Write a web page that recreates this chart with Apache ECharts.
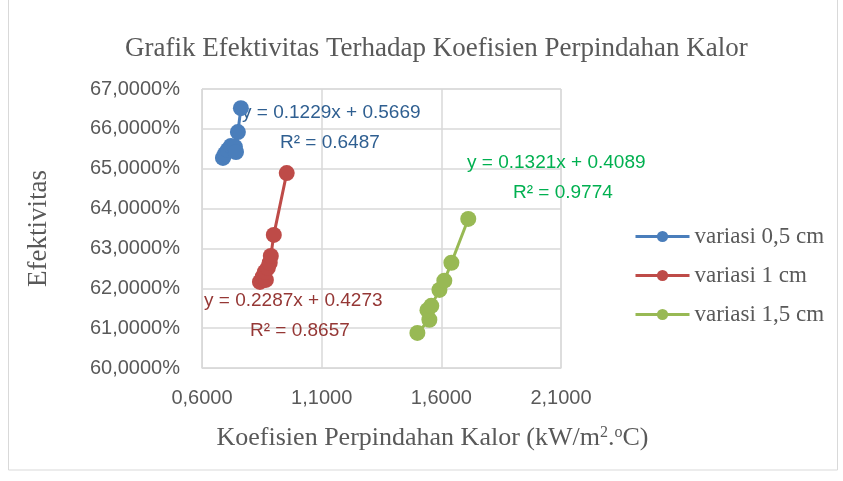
<!DOCTYPE html>
<html>
<head>
<meta charset="utf-8">
<script src="https://cdn.jsdelivr.net/npm/echarts@6/dist/echarts.min.js"></script>
<style>
  html, body { margin: 0; padding: 0; background: #fff; }
  #chart { width: 843px; height: 481px; }
</style>
</head>
<body>
<div id="chart"></div>
<script>
// data (x = kW/m2.C, y = fraction)
const seriesNames = ['variasi 0,5 cm', 'variasi 1 cm', 'variasi 1,5 cm'];
const blueX = [0.6875, 0.696, 0.708, 0.721, 0.7375, 0.742, 0.750, 0.7625];
const blueY = [0.6527, 0.6537, 0.6547, 0.6557, 0.6555, 0.6542, 0.6592, 0.6652];
const redX = [0.842, 0.854, 0.867, 0.8625, 0.875, 0.883, 0.8875, 0.900, 0.954];
const redY = [0.6216, 0.6229, 0.6221, 0.6241, 0.6251, 0.6264, 0.6281, 0.6334, 0.6489];
const greenX = [1.500, 1.550, 1.542, 1.558, 1.592, 1.6125, 1.642, 1.7125];
const greenY = [0.6088, 0.6121, 0.6145, 0.6156, 0.6196, 0.6219, 0.6264, 0.6374];
const trendLabels = [
  ['y = 0.1229x + 0.5669', 'R² = 0.6487'],
  ['y = 0.2287x + 0.4273', 'R² = 0.8657'],
  ['y = 0.1321x + 0.4089', 'R² = 0.9774']
];

const colors = ['#4a7ebb', '#be4b48', '#98b954'];
const labelColors = ['#2f5f91', '#953735', '#00b050'];

function pairs(xs, ys) {
  return xs.map((x, i) => [x, ys[i]]);
}

const myChart = echarts.init(document.getElementById('chart'));
const sans = 'Liberation Sans';
const serif = 'Liberation Serif';

function makeSeries(name, data, color) {
  return {
    name: name,
    type: 'line',
    data: data,
    symbol: 'circle',
    symbolSize: 16,
    color: color,
    lineStyle: { width: 3, color: color },
    itemStyle: { color: color },
    z: 3
  };
}

function eqText(txt, x, y, color) {
  return {
    type: 'text',
    x: x,
    y: y,
    z: 1,
    style: {
      text: txt,
      fill: color,
      font: '19px ' + sans,
      textVerticalAlign: 'middle'
    }
  };
}

myChart.setOption({
  animation: false,
  title: {
    text: 'Grafik Efektivitas Terhadap Koefisien Perpindahan Kalor',
    left: 120,
    top: 30,
    textStyle: { fontFamily: serif, fontSize: 27, fontWeight: 'normal', color: '#595959' }
  },
  grid: {
    left: 202,
    right: 282,
    top: 89,
    bottom: 113,
    show: true,
    borderColor: '#d9d9d9',
    borderWidth: 1
  },
  legend: {
    orient: 'vertical',
    left: 629,
    top: 220,
    itemWidth: 54,
    itemHeight: 14,
    itemGap: 16,
    data: seriesNames,
    lineStyle: { width: 3 },
    textStyle: { fontFamily: serif, fontSize: 23, color: '#595959' }
  },
  xAxis: {
    type: 'value',
    min: 0.6,
    max: 2.1,
    interval: 0.5,
    name: 'Koefisien Perpindahan Kalor (kW/m{sup|2}.{sup|o}C)',
    nameLocation: 'middle',
    nameGap: 57,
    nameTextStyle: {
      fontFamily: serif,
      fontSize: 26,
      color: '#595959',
      padding: [0, 0, 0, 102],
      rich: {
        sup: { fontFamily: serif, fontSize: 16, color: '#595959', verticalAlign: 'top', padding: [0, 0, 10, 0] }
      }
    },
    axisLine: { show: true, lineStyle: { color: '#d9d9d9' } },
    axisTick: { show: false },
    splitLine: { show: true, lineStyle: { color: '#d9d9d9', width: 1.5 } },
    axisLabel: {
      margin: 20,
      fontFamily: sans,
      fontSize: 20,
      color: '#595959',
      formatter: v => v.toFixed(4).replace('.', ',')
    }
  },
  yAxis: {
    type: 'value',
    min: 0.6,
    max: 0.67,
    interval: 0.01,
    name: 'Efektivitas',
    nameLocation: 'middle',
    nameGap: 150,
    nameTextStyle: { fontFamily: serif, fontSize: 27, color: '#595959' },
    axisLine: { show: true, lineStyle: { color: '#d9d9d9' } },
    axisTick: { show: false },
    splitLine: { show: true, lineStyle: { color: '#d9d9d9', width: 1.5 } },
    axisLabel: {
      margin: 22,
      fontFamily: sans,
      fontSize: 20,
      color: '#595959',
      formatter: v => (v * 100).toFixed(4).replace('.', ',') + '%'
    }
  },
  graphic: [
    {
      type: 'rect',
      z: 0,
      shape: { x: 8.5, y: -1, width: 829, height: 471 },
      style: { fill: 'none', stroke: '#d9d9d9', lineWidth: 1 }
    },
    eqText(trendLabels[0][0], 242, 113, labelColors[0]),
    eqText(trendLabels[0][1], 280, 143, labelColors[0]),
    eqText(trendLabels[1][0], 204, 301, labelColors[1]),
    eqText(trendLabels[1][1], 250, 331, labelColors[1]),
    eqText(trendLabels[2][0], 467, 163, labelColors[2]),
    eqText(trendLabels[2][1], 513, 193, labelColors[2])
  ],
  series: [
    makeSeries(seriesNames[0], pairs(blueX, blueY), colors[0]),
    makeSeries(seriesNames[1], pairs(redX, redY), colors[1]),
    makeSeries(seriesNames[2], pairs(greenX, greenY), colors[2])
  ]
});
</script>
</body>
</html>
